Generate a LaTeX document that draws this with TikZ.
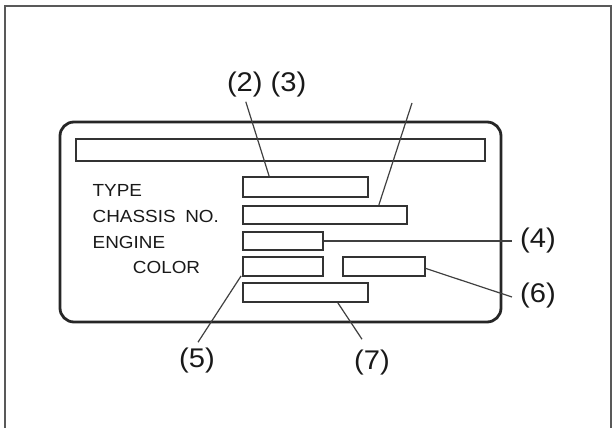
\documentclass[tikz,border=0pt]{standalone}
\usepackage{fontspec}
\newfontfamily\platefont[FakeStretch=1.08]{Liberation Sans}
\usepackage{tikz}
\usetikzlibrary{positioning}

\begin{document}
\begin{tikzpicture}[
    x=1pt, y=-1pt,
    frame/.style={draw=black!65, line width=2pt},
    plate/.style={draw=black!85, line width=2.8pt, rounded corners=14pt},
    field/.style={draw=black!80, line width=1.8pt, rectangle, inner sep=0pt},
    caption/.style={anchor=base west, inner sep=0pt, text=black!90, font=\platefont\fontsize{17.5}{20}\selectfont},
    callout/.style={inner sep=0pt, text=black!90, font=\platefont\fontsize{27}{30}\selectfont},
    leader/.style={draw=black!75, line width=1.2pt}
]
\useasboundingbox (0,0) rectangle (614,428);

% Frame
\draw[frame] (5,428) -- (5,6.5) -- (610.5,6.5) -- (610.5,428);

% Plate
\draw[plate] (60,122) rectangle (501,322);

% Fields
\node[field, minimum width=409pt, minimum height=22pt] (topbar) at (280.5,150) {};
\node[field, minimum width=125pt, minimum height=20pt] (typebox) at (305.5,187) {};
\node[field, minimum width=164pt, minimum height=18.5pt] (chassisbox) at (325,215) {};
\node[field, minimum width=80pt, minimum height=18.5pt] (enginebox) at (283,241) {};
\node[field, minimum width=80pt, minimum height=19pt] (colorboxa) at (283,266.5) {};
\node[field, minimum width=82pt, minimum height=19pt] (colorboxb) at (384,266.5) {};
\node[field, minimum width=125pt, minimum height=19pt] (extrabox) at (305.5,292.5) {};

% Captions
\node[caption] (typetext) at (92.5,196.7) {TYPE};
\node[caption] (chassistext) at (92.5,222.7) {CHASSIS\hspace{0.55em}NO.};
\node[caption] (enginetext) at (92.5,248.3) {ENGINE};
\node[caption] (colortext) at (132.7,273.3) {COLOR};

% Callouts
\node[callout] (lbltwothree) at (266.7,85) {(2) (3)};
\node[callout] (lblfour) at (538,241) {(4)};
\node[callout] (lblsix) at (538,296) {(6)};
\node[callout] (lblfive) at (197,361) {(5)};
\node[callout] (lblseven) at (372,363) {(7)};
\coordinate (chassistop) at (412,103);

% Leader lines
\draw[leader] ([xshift=19pt, yshift=-4pt]lbltwothree.south west) -- ([xshift=27pt]typebox.north west);
\draw[leader] (chassistop) -- ([xshift=-29pt]chassisbox.north east);
\draw[leader] (enginebox.east) -- ([xshift=-8pt]lblfour.west);
\draw[leader] ([yshift=-2pt]colorboxb.east) -- ([xshift=-8pt, yshift=-1pt]lblsix.west);
\draw[leader] ([xshift=-1pt, yshift=1pt]colorboxa.south west) -- ([xshift=1pt, yshift=6pt]lblfive.north);
\draw[leader] ([xshift=-31pt]extrabox.south east) -- ([xshift=-10pt, yshift=11pt]lblseven.north);

\end{tikzpicture}
\end{document}
